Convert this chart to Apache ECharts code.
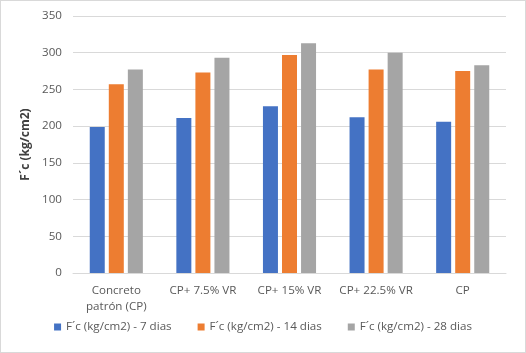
<!DOCTYPE html>
<html><head><meta charset="utf-8">
<script src="https://cdn.jsdelivr.net/npm/echarts@6/dist/echarts.min.js"></script>
<style>html,body{margin:0;padding:0;background:#fff}#c{width:524px;height:351px;border:1px solid #d9d9d9}</style>
</head><body><div id="c"></div>
<script>
const categories = ['Concreto\npatrón (CP)', 'CP+ 7.5% VR', 'CP+ 15% VR', 'CP+ 22.5% VR', 'CP'];
const dias7 = [199, 211, 227, 212, 206];
const dias14 = [257, 273, 297, 277, 275];
const dias28 = [277, 293, 313, 300, 283];
const seriesNames = ['F´c (kg/cm2) - 7 dias', 'F´c (kg/cm2) - 14 dias', 'F´c (kg/cm2) - 28 dias'];
const yTicks = [0, 50, 100, 150, 200, 250, 300, 350];

const font = 'Open Sans';
const chart = echarts.init(document.getElementById('c'));
const mk = (name, data, color) => ({
  name, type: 'bar', data, barWidth: 15, barGap: '27%',
  itemStyle: { color }
});
chart.setOption({
  animation: false,
  textStyle: { fontFamily: font },
  grid: { left: 72, right: 19, top: 15, bottom: 79 },
  legend: {
    bottom: 14, left: 'center', itemWidth: 7, itemHeight: 7, itemGap: 26,
    icon: 'rect',
    textStyle: { color: '#595959', fontSize: 11.6, fontFamily: font },
    data: seriesNames
  },
  xAxis: {
    type: 'category', data: categories,
    axisLine: { lineStyle: { color: '#d9d9d9' } },
    axisTick: { show: false },
    axisLabel: { color: '#595959', fontSize: 11.6, margin: 10, lineHeight: 16, fontFamily: font, interval: 0 }
  },
  yAxis: {
    type: 'value', min: yTicks[0], max: yTicks[yTicks.length - 1], interval: 50,
    name: 'F´c (kg/cm2)', nameLocation: 'middle', nameGap: 37,
    nameTextStyle: { color: '#404040', fontSize: 12, fontWeight: 'bold', fontFamily: font },
    axisLine: { show: false }, axisTick: { show: false },
    axisLabel: { color: '#595959', fontSize: 11.6, margin: 11, fontFamily: font },
    splitLine: { lineStyle: { color: '#d9d9d9' } }
  },
  series: [
    mk(seriesNames[0], dias7, '#4472C4'),
    mk(seriesNames[1], dias14, '#ED7D31'),
    mk(seriesNames[2], dias28, '#A5A5A5')
  ]
});
</script></body></html>
